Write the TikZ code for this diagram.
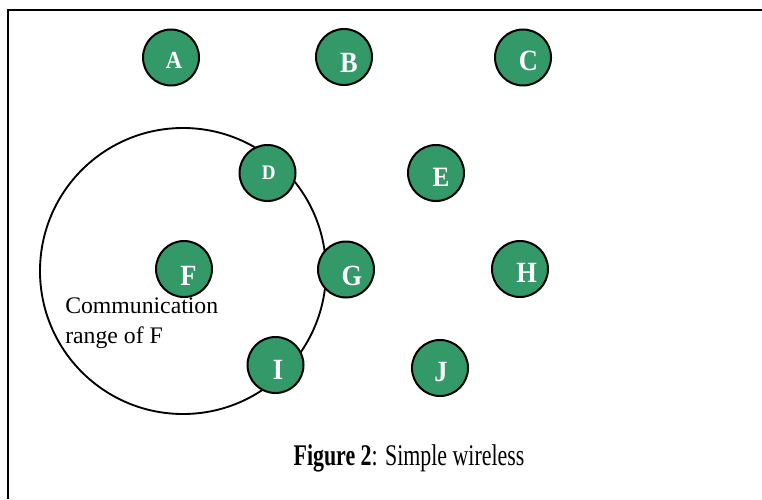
\documentclass[tikz,border=0pt]{standalone}
\usepackage{fontspec}
\setmainfont{Liberation Serif}
\definecolor{discgreen}{RGB}{52,153,104}
% horizontally condensed text
\newcommand{\narrowtext}[2]{\scalebox{#1}[1]{#2}}
\begin{document}
\begin{tikzpicture}[x=0.75pt,y=-0.75pt,
  disc/.style={circle,draw=black,line width=1.5pt,fill=discgreen,
    minimum size=42pt,inner sep=0pt},
  letter/.style={text=white,font=\bfseries\fontsize{22}{22}\selectfont,inner sep=0pt},
  rangecircle/.style={circle,draw=black,line width=1.4pt,minimum size=214.5pt,inner sep=0pt},
  note/.style={font=\fontsize{17.8}{21.8}\selectfont,align=left,inner sep=0pt},
  caption/.style={font=\fontsize{22.5}{24}\selectfont,inner sep=0pt}]
\useasboundingbox (0,0) rectangle (762,499);

% open frame: left and top edges only
\coordinate (fbl) at (8.3,499);
\coordinate (ftl) at (8.3,10.3);
\coordinate (ftr) at (762,10.3);
\draw[line width=1.6pt] (fbl) -- (ftl) -- (ftr);

% communication range of F
\node[rangecircle] (range) at (183,271) {};

% wireless stations
\node[disc] (A) at (171,57.5) {};
\node[disc] (B) at (344,57) {};
\node[disc] (C) at (523,57.5) {};
\node[disc] (D) at (267.5,173) {};
\node[disc] (E) at (436,173) {};
\node[disc] (F) at (184,269) {};
\node[disc] (G) at (346,269.5) {};
\node[disc] (H) at (520,269) {};
\node[disc] (I) at (275.5,365) {};
\node[disc] (J) at (440,368) {};

% station letters
\node[letter,font=\bfseries\fontsize{18.4}{19}\selectfont] (tA) at (174,60) {\narrowtext{0.92}{A}};
\node[letter] (tB) at (349,62.5) {\narrowtext{0.9}{B}};
\node[letter] (tC) at (528.5,61) {\narrowtext{0.9}{C}};
\node[letter,font=\bfseries\fontsize{15.5}{16}\selectfont] (tD) at (268.7,173) {\narrowtext{0.92}{D}};
\node[letter,font=\bfseries\fontsize{21}{21}\selectfont] (tE) at (441,177.5) {\narrowtext{0.9}{E}};
\node[letter] (tF) at (188.5,276) {\narrowtext{0.9}{F}};
\node[letter] (tG) at (352,276) {\narrowtext{0.9}{G}};
\node[letter] (tH) at (526.7,273) {\narrowtext{0.9}{H}};
\node[letter] (tI) at (278,369.5) {\narrowtext{0.9}{I}};
\node[letter] (tJ) at (441,372) {\narrowtext{0.9}{J}};

% range label (base anchor sits on the last line)
\node[note,anchor=base west] (lbl) at (65,343) {Communication\\range of F};

% caption
\node[caption,anchor=base] (cap) at (409,465) {\narrowtext{0.73}{\textbf{Figure 2}: Simple wireless}};
\end{tikzpicture}
\end{document}
